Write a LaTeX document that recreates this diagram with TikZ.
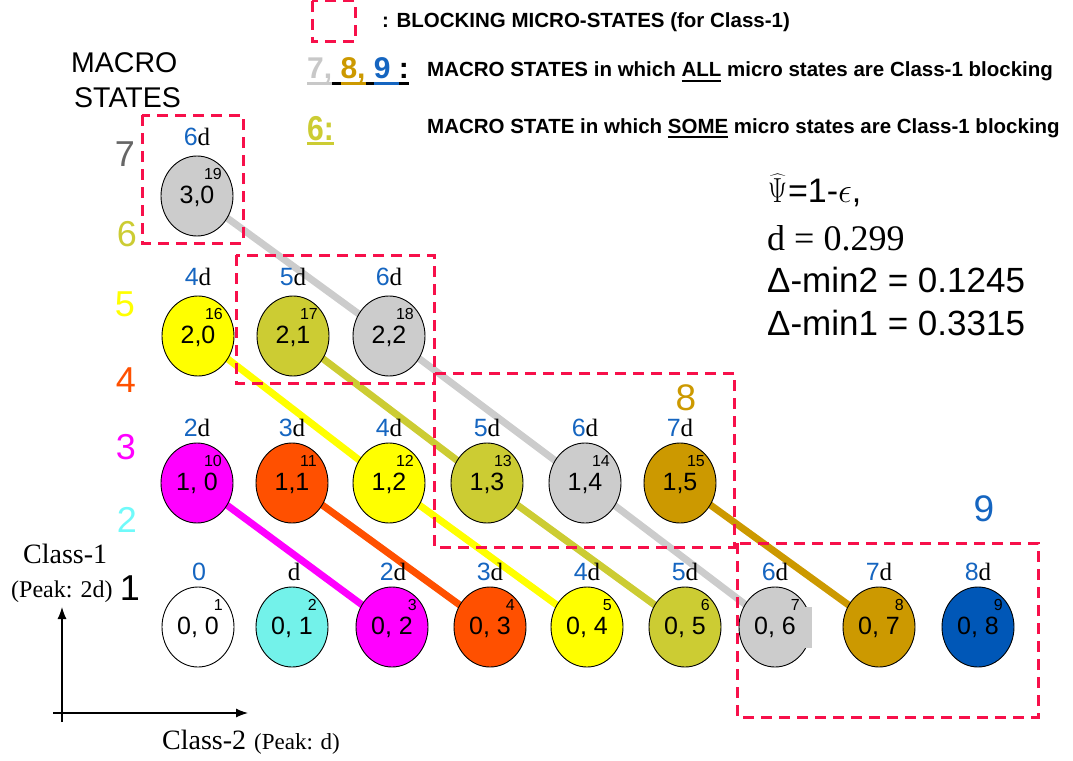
\documentclass[tikz,border=0pt]{standalone}
\usepackage{fontspec}
\setmainfont{Liberation Serif}
\setsansfont{Liberation Sans}
\usetikzlibrary{shapes.geometric,backgrounds,arrows.meta}

\definecolor{stgray}{HTML}{CCCCCC}
\definecolor{styellow}{HTML}{FFFF00}
\definecolor{stolive}{HTML}{CCCC33}
\definecolor{stmag}{HTML}{FF00FF}
\definecolor{storange}{HTML}{FF5000}
\definecolor{stgold}{HTML}{CC9900}
\definecolor{stblue}{HTML}{0057B7}
\definecolor{stcyan}{HTML}{73F2EA}
\definecolor{lblue}{HTML}{1565C0}
\definecolor{blockred}{HTML}{F7104A}
\definecolor{macrogray}{HTML}{666666}
\definecolor{macrocyan}{HTML}{70FAFA}
\definecolor{leggray}{HTML}{C8C8C8}

% underline with chosen depth and thickness, in the current colour
\newsavebox\ulbox
\newcommand\myul[3]{\sbox\ulbox{#3}\rlap{\rule[-#1]{\wd\ulbox}{#2}}\usebox\ulbox}
% math symbols set at a large size: horizontal and vertical scale
\newcommand\bigmath[3]{\scalebox{#1}[#2]{\fontsize{24.88}{25}\selectfont$#3$}}

\tikzset{
  state/.style={ellipse, draw=black, line width=0.9pt, minimum width=72pt,
    minimum height=80pt, inner sep=0pt, font=\sffamily\fontsize{25}{25}\selectfont},
  idx/.style={anchor=east, inner sep=0pt, font=\sffamily\fontsize{16}{16}\selectfont},
  peak/.style={inner sep=0pt, font=\fontsize{25}{25}\selectfont},
  link/.style={line width=7pt},
  blockbox/.style={draw=blockred, line width=3pt, dash pattern=on 11pt off 7pt},
  macro/.style={inner sep=0pt, font=\sffamily\fontsize{36}{36}\selectfont},
  legend/.style={anchor=base west, inner sep=0pt, font=\sffamily\bfseries\fontsize{20.5}{20.5}\selectfont},
  eqn/.style={anchor=base west, inner sep=0pt, font=\sffamily\fontsize{35}{35}\selectfont},
  axis/.style={line width=1.2pt, -{Latex[length=12pt,width=9pt]}},
}

% a state: name, x, y, fill, text, index number
\newcommand\stateat[6]{%
  \node[state, fill=#4] (#1) at (#2,#3) {#5};
  \node[idx] (#1i) at ([shift={(25,-22)}]#1.center) {#6};}
% a peak label above a state: name, x, y, multiple of d
\newcommand\peakat[4]{%
  \node[peak] (#1) at (#2,#3) {\textcolor{lblue}{\sffamily #4}d};}

\begin{document}
\begin{tikzpicture}[x=1pt,y=-1pt]
\useasboundingbox (0,0) rectangle (1073,760);

% ---- states, row by row (Class-1 count, Class-2 count)
\stateat{n1}{198}{627}{white}{0, 0}{1}
\stateat{n2}{292}{627}{stcyan}{0, 1}{2}
\stateat{n3}{392}{627}{stmag}{0, 2}{3}
\stateat{n4}{490}{627}{storange}{0, 3}{4}
\stateat{n5}{587}{627}{styellow}{0, 4}{5}
\stateat{n6}{685}{627}{stolive}{0, 5}{6}
\node[state, fill=stgray] (n7) at (775,627) {};
\stateat{n8}{879}{627}{stgold}{0, 7}{8}
\stateat{n9}{978}{627}{stblue}{0, 8}{9}

\stateat{n10}{197}{483}{stmag}{1, 0}{10}
\stateat{n11}{292}{483}{storange}{1,1}{11}
\stateat{n12}{389}{483}{styellow}{1,2}{12}
\stateat{n13}{487}{483}{stolive}{1,3}{13}
\stateat{n14}{585}{483}{stgray}{1,4}{14}
\stateat{n15}{680}{483}{stgold}{1,5}{15}

\stateat{n16}{198}{336}{styellow}{2,0}{16}
\stateat{n17}{293}{336}{stolive}{2,1}{17}
\stateat{n18}{389}{336}{stgray}{2,2}{18}

\stateat{n19}{197}{196}{stgray}{3,0}{19}

% grey patch over the right rim of state (0,6), under its text
\fill[stgray] (797,607) rectangle (812,648);
\node[state, draw=none, fill=none] (n7t) at (n7.center) {0, 6};
\node[idx] (n7i) at ([shift={(25,-22)}]n7.center) {7};

% ---- connectors between states of equal total load
\begin{scope}[on background layer]
  \draw[link, stmag] (n10.center) -- (n3.center);
  \draw[link, storange] (n11.center) -- (n4.center);
  \draw[link, styellow] (n16.center) -- (n12.center) -- (n5.center);
  \draw[link, stolive] (n17.center) -- (n13.center) -- (n6.center);
  \draw[link, stgray] (n19.center) -- (n18.center) -- (n14.center) -- (n7.center);
  \draw[link, stgold] (n15.center) -- (n8.center);
\end{scope}

% ---- peak labels
\node[peak] (p1) at (199,572) {\textcolor{lblue}{\sffamily 0}};
\node[peak] (p2) at (294,572) {d};
\peakat{p3}{393}{572}{2}
\peakat{p4}{490}{572}{3}
\peakat{p5}{587}{572}{4}
\peakat{p6}{685}{572}{5}
\peakat{p7}{775}{572}{6}
\peakat{p8}{879}{572}{7}
\peakat{p9}{978}{572}{8}
\peakat{p10}{197}{428}{2}
\peakat{p11}{292}{428}{3}
\peakat{p12}{389}{428}{4}
\peakat{p13}{487}{428}{5}
\peakat{p14}{585}{428}{6}
\peakat{p15}{680}{428}{7}
\peakat{p16}{198}{277}{4}
\peakat{p17}{293}{277}{5}
\peakat{p18}{389}{277}{6}
\peakat{p19}{197}{137}{6}

% ---- blocking micro-state regions
\draw[blockbox] (142,115) rectangle (243,243);
\draw[blockbox] (236,255) rectangle (434,383);
\draw[blockbox] (434,373) rectangle (734,547);
\draw[blockbox] (737,543) rectangle (1038,717);

% ---- macro-state numbers
\node[anchor=base west, inner sep=0pt, font=\sffamily\fontsize{28.5}{28.5}\selectfont] (mt1) at (71,73) {MACRO};
\node[anchor=base west, inner sep=0pt, font=\sffamily\fontsize{28.5}{28.5}\selectfont] (mt2) at (74,107) {STATES};
\node[macro, text=macrogray] (m7) at (125,154) {7};
\node[macro, text=stolive] (m6) at (127,234) {6};
\node[macro, text=styellow] (m5) at (125,304) {5};
\node[macro, text=storange] (m4) at (126,380) {4};
\node[macro, text=stmag] (m3) at (126,447) {3};
\node[macro, text=macrocyan] (m2) at (127,520) {2};
\node[macro, text=black] (m1) at (130,588) {1};
\node[font=\sffamily\fontsize{37}{37}\selectfont, text=stgold, inner sep=0pt] (b8) at (686,398) {8};
\node[font=\sffamily\fontsize{37}{37}\selectfont, text=lblue, inner sep=0pt] (b9) at (984,509) {9};

% ---- legend
\draw[blockbox] (312,1) rectangle (355,42);
\node[legend] (l1) at (382,28) {: BLOCKING MICRO-STATES (for Class-1)};
\node[legend, font=\sffamily\bfseries\fontsize{30}{30}\selectfont] (l2k) at (307,78)
  {\textcolor{leggray}{\myul{6.5pt}{3pt}{7,}}\myul{6.5pt}{3pt}{ }\textcolor{stgold}{\myul{6.5pt}{3pt}{8,}}\myul{6.5pt}{3pt}{ }\textcolor{lblue}{\myul{6.5pt}{3pt}{9 }}\myul{6.5pt}{3pt}{:}};
\node[legend] (l2) at (427,77) {MACRO STATES in which \myul{5pt}{2.2pt}{ALL} micro states are Class-1 blocking};
\node[legend, font=\sffamily\bfseries\fontsize{30}{30}\selectfont, text=stolive] (l3k) at (307,140)
  {\myul{5pt}{3pt}{\scalebox{1}[1.15]{6:}}};
\node[legend] (l3) at (427,133) {MACRO STATE in which \myul{5pt}{2.2pt}{SOME} micro states are Class-1 blocking};

% ---- parameters
\node[eqn, font=\sffamily\fontsize{34}{34}\selectfont] (e1) at (768,202)
  {\bigmath{1.05}{1.4}{\widehat{\Psi}}\kern1pt=1-\bigmath{1.4}{1.4}{\epsilon},};
\node[eqn, font=\fontsize{36}{36}\selectfont] (e2) at (767,250) {d = 0.299};
\node[eqn] (e3) at (767,292) {Δ-min2 = 0.1245};
\node[eqn] (e4) at (767,335) {Δ-min1 = 0.3315};

% ---- axes
\node[anchor=base west, inner sep=0pt, font=\fontsize{28}{28}\selectfont] (c1) at (23,563) {Class-1};
\node[anchor=base west, inner sep=0pt, font=\fontsize{24}{24}\selectfont] (c1p) at (11,597) {(Peak: 2d)};
\node[anchor=base west, inner sep=0pt] (c2) at (162,749)
  {{\fontsize{28}{28}\selectfont Class-2}\hspace{8pt}{\fontsize{23}{23}\selectfont(Peak: d)}};
\coordinate (yb) at (62,722);
\coordinate (yt) at (62,607);
\coordinate (xl) at (53,713);
\coordinate (xr) at (248,713);
\draw[axis] (yb) -- (yt);
\draw[axis] (xl) -- (xr);
\end{tikzpicture}
\end{document}
